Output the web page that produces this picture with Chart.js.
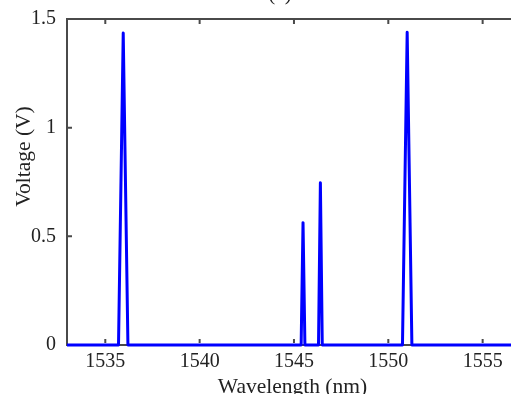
<!DOCTYPE html>
<html lang="en">
<head>
    <meta charset="UTF-8">
    <title>Voltage vs Wavelength</title>
    <script src="https://cdn.jsdelivr.net/npm/chart.js"></script>
    <style>
        body { margin: 0; overflow: hidden; background: #fff; }
        #wrap { position: absolute; left: 0; top: -16px; width: 560px; height: 420px; }
    </style>
</head>
<body>
    <div id="wrap">
        <canvas id="grafico" width="560" height="420"></canvas>
    </div>

<script>
    // dados
    const wavelength = [1532.97, 1535.70, 1535.95, 1536.20, 1545.38, 1545.48, 1545.58, 1546.30, 1546.40, 1546.50, 1550.75, 1551.00, 1551.25, 1559.10];
    const voltage    = [0,       0,       1.436,   0,       0,       0.563,   0,       0,       0.747,   0,       0,       1.439,   0,       0];
    const xTicks = [1535, 1540, 1545, 1550, 1555];
    const yTicks = [0, 0.5, 1, 1.5];

    const corEixo = '#4a4a4a';
    const corTexto = '#222';
    const fonte = 'Liberation Serif';

    // moldura de cima, ticks para dentro e titulos dos eixos
    const moldura = {
        id: 'moldura',
        afterDatasetsDraw(chart) {
            const ctx = chart.ctx;
            const a = chart.chartArea;
            const x = chart.scales.x;
            const y = chart.scales.y;
            ctx.save();
            ctx.strokeStyle = corEixo;
            ctx.lineWidth = 2;
            ctx.beginPath();
            ctx.moveTo(a.left - 1, a.top);
            ctx.lineTo(a.right, a.top);
            ctx.stroke();
            ctx.beginPath();
            xTicks.forEach(v => {
                const px = x.getPixelForValue(v);
                ctx.moveTo(px, a.top);
                ctx.lineTo(px, a.top + 5);
                ctx.moveTo(px, a.bottom - 2);
                ctx.lineTo(px, a.bottom - 6);
            });
            yTicks.forEach(v => {
                if (v === 0 || v === 1.5) return;
                const py = y.getPixelForValue(v);
                ctx.moveTo(a.left, py);
                ctx.lineTo(a.left + 5, py);
            });
            ctx.stroke();

            ctx.fillStyle = corTexto;
            ctx.font = '21.5px "' + fonte + '"';
            ctx.textAlign = 'center';
            ctx.textBaseline = 'alphabetic';
            ctx.fillText('Wavelength (nm)', 292.5, 408.5);

            ctx.textBaseline = 'middle';
            ctx.translate(24, 172.5);
            ctx.rotate(-Math.PI / 2);
            ctx.fillText('Voltage (V)', 0, 0);
            ctx.restore();
        }
    };

    const ctx = document.getElementById('grafico').getContext('2d');
    const meuGrafico = new Chart(ctx, {
        type: 'line',
        data: {
            datasets: [{
                data: wavelength.map((w, i) => ({ x: w, y: voltage[i] })),
                borderColor: '#0000ff',
                borderWidth: 3,
                borderJoinStyle: 'round',
                pointRadius: 0,
                tension: 0,
                clip: false
            }]
        },
        options: {
            responsive: false,
            animation: false,
            layout: { padding: { left: 0, right: 0, top: 0, bottom: 0 } },
            plugins: {
                legend: { display: false },
                tooltip: { enabled: false },
                title: {
                    display: true,
                    text: '(a)',
                    color: corTexto,
                    font: { family: fonte, size: 21, weight: 'normal', lineHeight: 1 },
                    padding: { top: 0, bottom: 14 }
                }
            },
            scales: {
                x: {
                    type: 'linear',
                    min: 1532.97,
                    max: 1559.1,
                    afterBuildTicks: s => { s.ticks = xTicks.map(v => ({ value: v })); },
                    afterFit: s => { s.height = 59; },
                    grid: { display: true, drawOnChartArea: false, drawTicks: false },
                    border: { display: true, color: corEixo, width: 2 },
                    ticks: {
                        color: corTexto,
                        padding: 5,
                        maxRotation: 0,
                        autoSkip: false,
                        font: { family: fonte, size: 20 },
                        callback: v => String(v)
                    }
                },
                y: {
                    min: 0,
                    max: 1.5,
                    afterBuildTicks: s => { s.ticks = yTicks.map(v => ({ value: v })); },
                    afterFit: s => { s.width = 67; },
                    grid: { display: true, drawOnChartArea: false, drawTicks: false },
                    border: { display: true, color: corEixo, width: 2 },
                    ticks: {
                        color: corTexto,
                        padding: 11,
                        font: { family: fonte, size: 20 },
                        callback: v => String(v)
                    }
                }
            }
        },
        plugins: [moldura]
    });
</script>
</body>
</html>
